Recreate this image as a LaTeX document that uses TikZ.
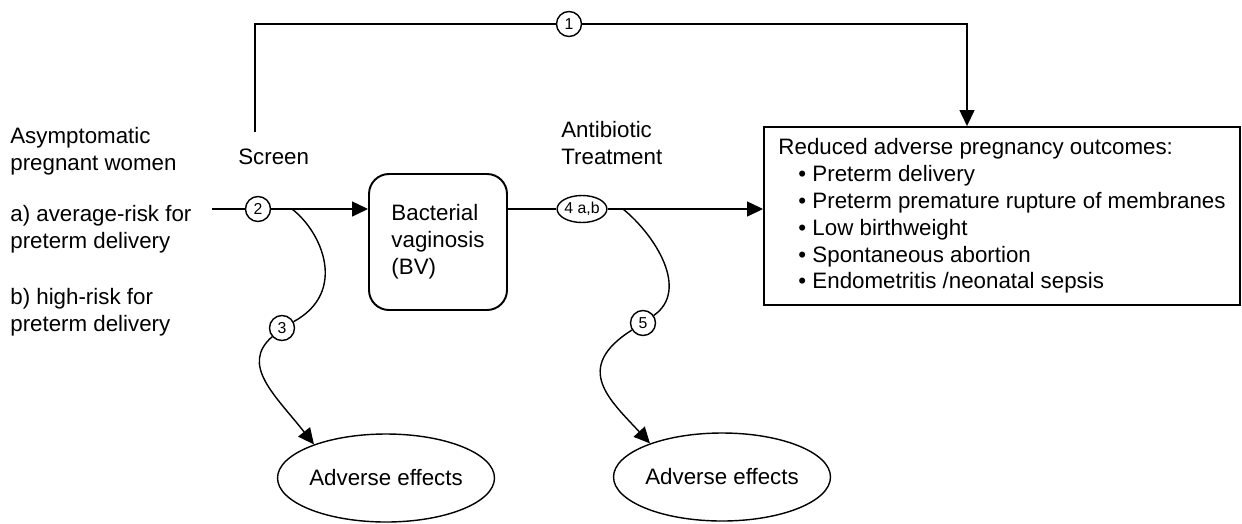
\documentclass[tikz,border=0pt]{standalone}
\usepackage{fontspec}
\setmainfont{Liberation Sans}
\usetikzlibrary{arrows.meta, positioning, shapes.geometric}
\tikzset{%
	txt/.style={font=\fontsize{12.7}{15.3}\selectfont, inner sep=0mm},
	lbl/.style={txt, align=left},
	num/.style={draw, circle, minimum size=5mm, inner sep=0mm, thick,%
		font=\fontsize{9}{10}\selectfont},
	numwide/.style={draw, ellipse, minimum width=9.6mm, minimum height=5.4mm,%
		inner sep=0mm, thick, font=\fontsize{9}{10}\selectfont},
	bvbox/.style={txt, draw, rectangle, rounded corners=4mm, line width=1.1pt,%
		minimum width=27.6mm, minimum height=27.2mm, align=left},
	outbox/.style={txt, draw, rectangle, line width=1.1pt,%
		minimum width=95.2mm, minimum height=35.6mm, align=left},
	effect/.style={txt, draw, ellipse, thick, minimum width=36.4mm, minimum height=17.6mm},
	connector/.style={thick},
	sel/.style={-{Triangle[length=3.2mm, width=3mm]}, thick}
}
\begin{document}
\begin{tikzpicture}[x=0.2mm, y=-0.2mm]
	\useasboundingbox (0,0) rectangle (1242,523);

	\node[lbl, anchor=north west] (women) at (10,127) {Asymptomatic\\pregnant women};
	\node[lbl, below=6mm of women.south west, anchor=north west] (avgrisk) {a) average-risk for\\preterm delivery};
	\node[lbl, below=6.8mm of avgrisk.south west, anchor=north west] (highrisk) {b) high-risk for\\preterm delivery};
	\node[lbl, anchor=base west] (screen) at (238,164) {Screen};
	\node[lbl, anchor=north west] (treat) at (561,121) {Antibiotic\\Treatment};

	\node[bvbox] (bv) at (438,242) {Bacterial\\vaginosis\\(BV)};
	\node[outbox] (out) at (1002,216) {Reduced adverse pregnancy outcomes:\\
		\hspace*{4mm}\textbullet\ Preterm delivery\\
		\hspace*{4mm}\textbullet\ Preterm premature rupture of membranes\\
		\hspace*{4mm}\textbullet\ Low birthweight\\
		\hspace*{4mm}\textbullet\ Spontaneous abortion\\
		\hspace*{4mm}\textbullet\ Endometritis /neonatal sepsis};
	\node[effect] (ae1) at (386,478) {Adverse effects};
	\node[effect] (ae2) at (722,477) {Adverse effects};

	\node[num] (c1) at (569,24) {1};
	\node[num] (c2) at (258,209) {2};
	\node[num] (c3) at (282,328) {3};
	\node[numwide] (c4) at (582,209) {4 a,b};
	\node[num] (c5) at (643,323) {5};

	\coordinate (in) at (212,209);
	\coordinate (split1) at (292,209);
	\coordinate (split2) at (623,209);
	\coordinate (topl) at (255,132);
	\coordinate (topr) at (967,0);

	\draw [connector] (topl) |- (c1);
	\draw [sel] (c1) -| (topr |- out.north);
	\draw [connector] (in) to (c2);
	\draw [sel] (c2) to (c2 -| bv.west);
	\draw [connector] (c4 -| bv.east) to (c4);
	\draw [sel] (c4) to (c4 -| out.west);

	\draw [connector] (split1) .. controls (322,232) and (348,292) .. (c3);
	\draw [sel] (c3) .. controls (240,365) and (275,395) .. (ae1.155);
	\draw [connector] (split2) .. controls (655,235) and (690,290) .. (c5);
	\draw [sel] (c5) .. controls (572,368) and (610,400) .. (ae2.155);
\end{tikzpicture}
\end{document}
